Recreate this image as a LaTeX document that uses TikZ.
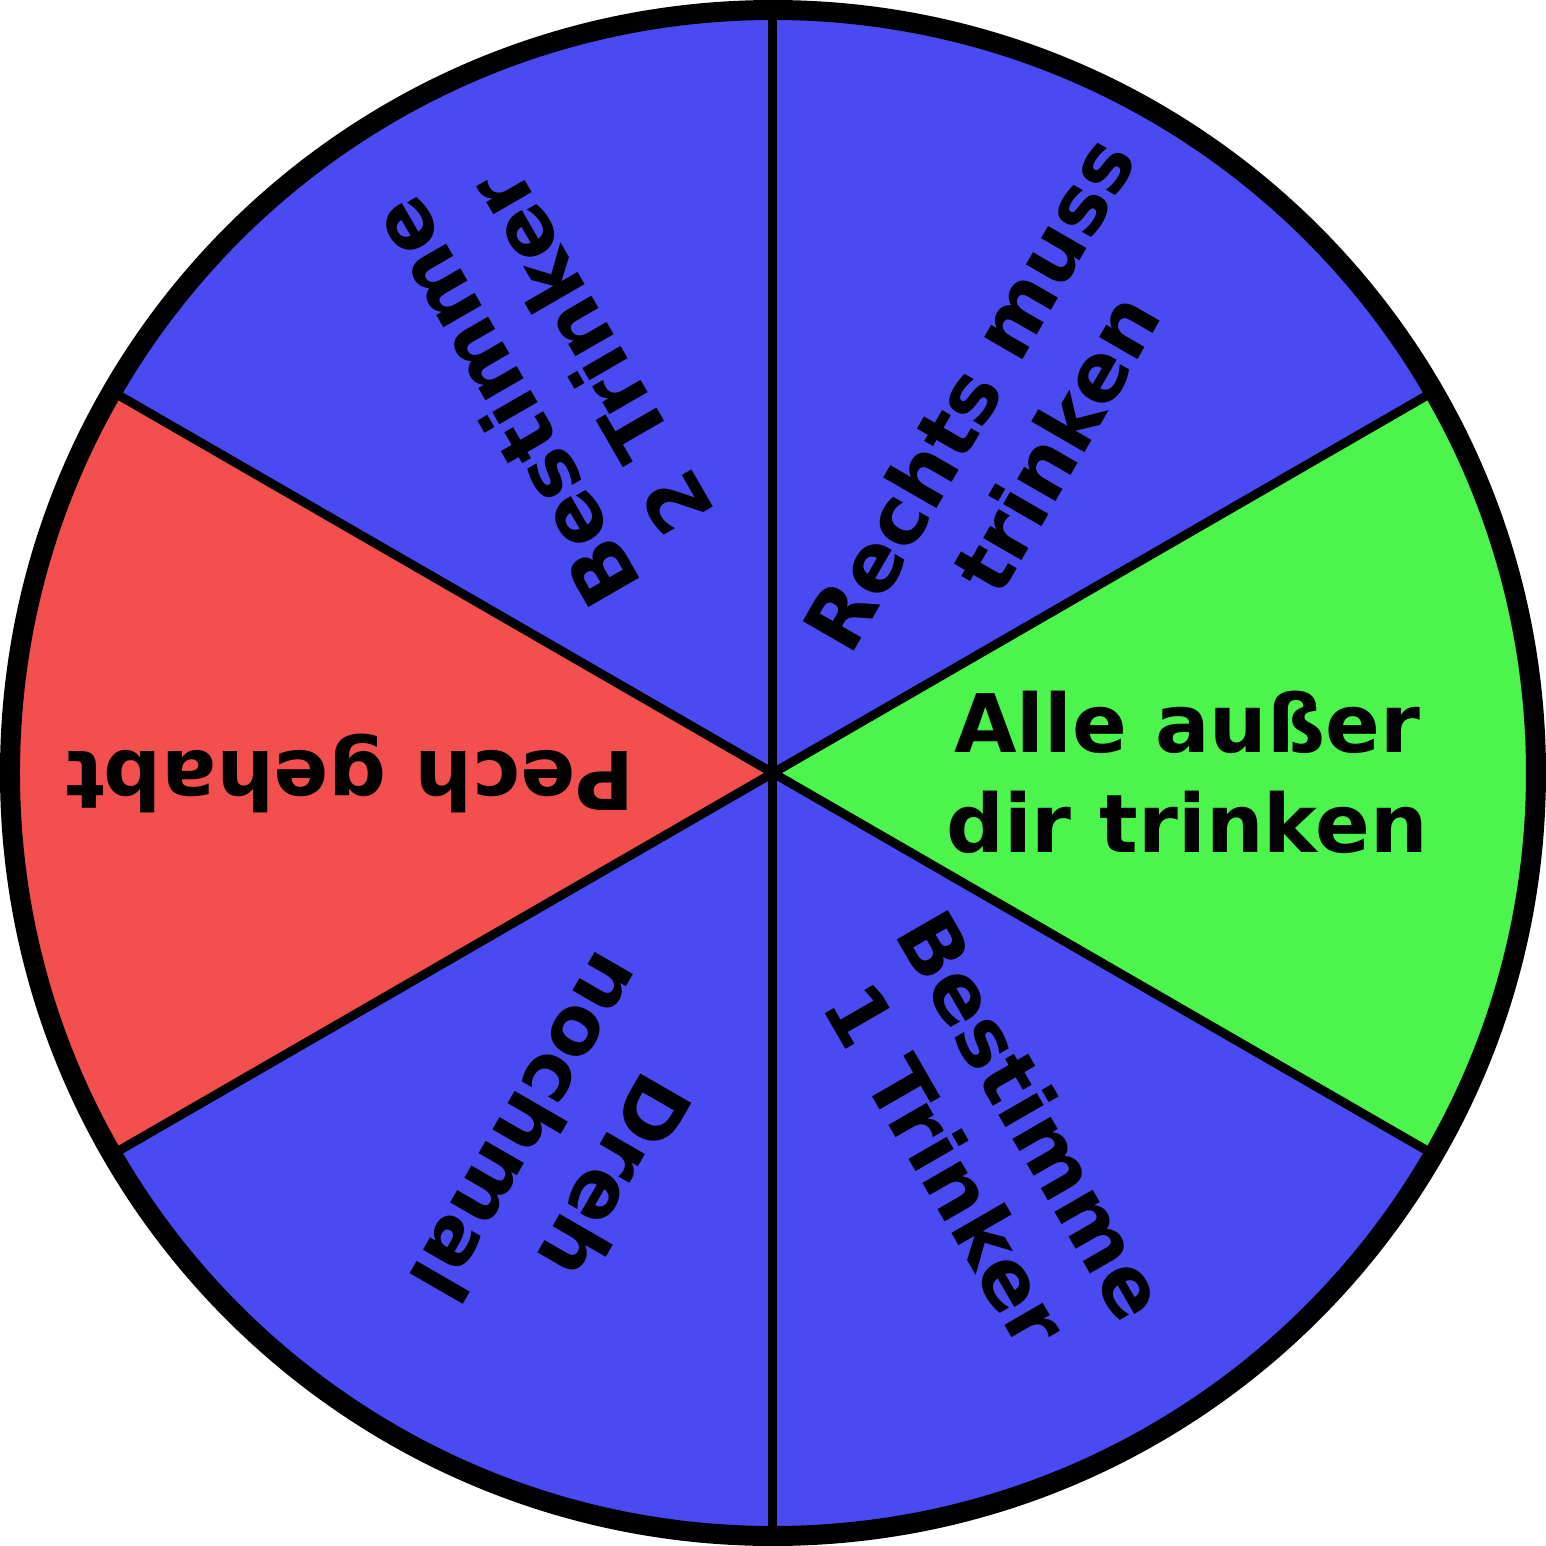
\documentclass[tikz,border=0pt]{standalone}
\usepackage{fontspec}
\setmainfont{DejaVu Sans}
\definecolor{wblue}{HTML}{4A4AF2}
\definecolor{wred}{HTML}{F34F4F}
\definecolor{wgreen}{HTML}{4CF54C}
\begin{document}
\begin{tikzpicture}[
  spoke/.style={draw=black, line width=0.09cm},
  rim/.style={draw=black, line width=0.2cm},
  field/.style={font=\fontsize{23}{28.45}\selectfont\bfseries, align=center, inner sep=0pt}
]
\useasboundingbox (-7.73,-7.73) rectangle (7.73,7.73);
\coordinate (mid) at (0,0);
% sectors
\foreach \a/\col in {-30/wgreen,30/wblue,90/wblue,150/wred,210/wblue,270/wblue} {
  \fill[\col] (mid) -- (\a:7.63) arc (\a:\a+60:7.63) -- cycle;
}
\foreach \a in {30,90,...,330} {
  \draw[spoke] (mid) -- (\a:7.63);
}
\draw[rim] (mid) circle (7.63);
% labels
\node[field] (f0) at (4.14,0.01) {Alle außer\\dir trinken};
\node[field, rotate=60] (f60) at (2.39,3.55) {Rechts muss\\trinken};
\node[field, rotate=120] (f120) at (-2.26,3.95) {Bestimme\\2 Trinker};
\node[field, rotate=180] (f180) at (-4.23,0) {Pech gehabt};
\node[field, rotate=240] (f240) at (-2.01,-3.80) {Dreh\\nochmal};
\node[field, rotate=300] (f300) at (2.17,-3.67) {Bestimme\\1 Trinker};
\end{tikzpicture}
\end{document}
